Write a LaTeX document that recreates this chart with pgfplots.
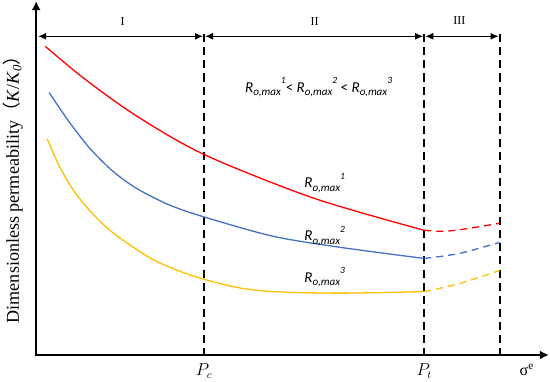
\documentclass[border=0pt]{standalone}
\usepackage{pgfplots}
\pgfplotsset{compat=1.18}
\usepackage{fontspec}
\setmainfont{Liberation Serif}
\newfontfamily\carl{Carlito}
\newfontfamily\cjk{Noto Sans CJK SC}
\usetikzlibrary{arrows.meta}
\definecolor{cred}{RGB}{255,0,0}
\definecolor{cblue}{RGB}{68,114,196}
\definecolor{cyel}{RGB}{255,192,0}
\newcommand{\R}[1]{\textit{R}\raisebox{-0.25em}{\fontsize{11}{12}\selectfont\textit{o,max}}\raisebox{0.55em}{\fontsize{9.5}{11}\selectfont\textit{#1}}}
\begin{document}
\begin{tikzpicture}
\begin{axis}[x=1pt,y=1pt,xmin=0,xmax=550,ymin=0,ymax=386,hide axis,clip=false,scale only axis]
% axes
\draw[line width=2.2pt,-{Latex[length=9pt,width=9pt]}] (axis cs:39,31) -- (axis cs:39,384);
\draw[line width=2.2pt,-{Latex[length=9pt,width=9pt]}] (axis cs:38,32) -- (axis cs:549,32);
% dashed verticals
\draw[line width=1.8pt,dash pattern=on 8pt off 5pt] (axis cs:206,351) -- (axis cs:206,33);
\draw[line width=1.8pt,dash pattern=on 8pt off 5pt] (axis cs:425,351) -- (axis cs:425,33);
\draw[line width=1.8pt,dash pattern=on 8pt off 5pt] (axis cs:500,351) -- (axis cs:500,33);
% region arrows
\draw[line width=1.2pt,{Latex[length=8pt,width=7pt]}-{Latex[length=8pt,width=7pt]}] (axis cs:41,349) -- (axis cs:205,349);
\draw[line width=1.2pt,{Latex[length=8pt,width=7pt]}-{Latex[length=8pt,width=7pt]}] (axis cs:207,349) -- (axis cs:424,349);
\draw[line width=1.2pt,{Latex[length=8pt,width=7pt]}-{Latex[length=8pt,width=7pt]}] (axis cs:426,349) -- (axis cs:499,349);
\node[font=\fontsize{12}{14}\selectfont] at (axis cs:125,364) {I};
\node[font=\fontsize{12}{14}\selectfont] at (axis cs:316,364) {II};
\node[font=\fontsize{12}{14}\selectfont] at (axis cs:460,365) {III};
% curves
\addplot[cred,line width=1.3pt,smooth] coordinates {(48,339) (88,306) (140,269) (207,231) (315,188) (425,156)};
\addplot[cred,line width=1.3pt,smooth,dash pattern=on 7pt off 5pt] coordinates {(425,156) (445,155) (470,158) (500,163)};
\addplot[cblue,line width=1.3pt,smooth] coordinates {(52,293) (71,265) (92,238) (115,215) (140,197) (172,181) (207,169) (275,150) (342,139) (425,128)};
\addplot[cblue,line width=1.3pt,smooth,dash pattern=on 7pt off 5pt] coordinates {(425,128) (460,133) (500,144)};
\addplot[cyel,line width=1.3pt,smooth] coordinates {(50,247) (62,220) (76,196) (92,176) (110,158) (130,143) (155,127) (180,116) (207,107) (240,99) (275,95) (342,93.5) (425,95)};
\addplot[cyel,line width=1.3pt,smooth,dash pattern=on 7pt off 5pt] coordinates {(425,95) (460,103) (500,116)};
% labels
\node[font=\carl\fontsize{15}{17}\selectfont] at (axis cs:320,298) {\R{1}< \R{2} < \R{3}};
\node[font=\carl\fontsize{15}{17}\selectfont] at (axis cs:326,203) {\R{1}};
\node[font=\carl\fontsize{15}{17}\selectfont] at (axis cs:326,150) {\R{2}};
\node[font=\carl\fontsize{15}{17}\selectfont] at (axis cs:326,109) {\R{3}};
\node[font=\fontsize{18}{20}\selectfont,rotate=90] at (axis cs:16,201) {Dimensionless permeability{\cjk（}\textit{K}/\textit{K}$_{\mathit{0}}${\cjk）}};
\node[font=\fontsize{16}{18}\selectfont] at (axis cs:206,16) {$P_c$};
\node[font=\fontsize{16}{18}\selectfont] at (axis cs:425,16) {$P_t$};
\node[font=\fontsize{16}{18}\selectfont] at (axis cs:527,17) {σ\textsuperscript{e}};
\end{axis}
\end{tikzpicture}
\end{document}
